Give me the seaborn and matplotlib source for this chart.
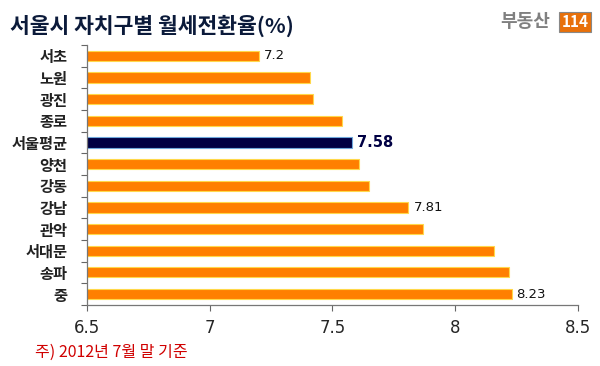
import matplotlib
matplotlib.use("Agg")
import matplotlib.pyplot as plt
import seaborn as sns
import pandas as pd
import numpy as np

categories = ["서초", "노원", "광진", "종로", "서울평균", "양천", "강동", "강남", "관악", "서대문", "송파", "중"]
values = [7.2, 7.41, 7.42, 7.54, 7.58, 7.61, 7.65, 7.81, 7.87, 8.16, 8.22, 8.23]
labeled = {"서초": "7.2", "서울평균": "7.58", "강남": "7.81", "중": "8.23"}
xticks = [6.5, 7, 7.5, 8, 8.5]
xticklabels = ["6.5", "7", "7.5", "8", "8.5"]

sns.set_theme(style="white")
plt.rcParams["font.family"] = ["Noto Sans CJK KR", "DejaVu Sans"]

df = pd.DataFrame({"cat": categories, "val": values})
df["grp"] = ["avg" if c == "서울평균" else "gu" for c in categories]

fig = plt.figure(figsize=(6, 3.66), dpi=100)
ax = fig.add_axes([0.145, 0.167, 0.818, 0.71])

orange = "#FF7F00"
navy = "#000044"
sns.barplot(data=df, y="cat", x="val", hue="grp", order=categories,
            palette={"gu": orange, "avg": navy}, dodge=False, legend=False,
            width=0.47, saturation=1, ax=ax)
for bar in ax.patches:
    fc = bar.get_facecolor()
    if fc[0] < 0.1:
        bar.set_edgecolor("#6FA8DC")
    else:
        bar.set_edgecolor("#FFD84A")
    bar.set_linewidth(0.8)

ax.set_xlim(6.5, 8.5)
ax.set_ylim(len(categories) - 0.5, -0.5)
ax.set_xticks(xticks)
ax.set_xticklabels(xticklabels, fontsize=12, family=["DejaVu Sans"])
ax.set_yticks(range(len(categories)))
ax.set_yticklabels(categories, fontsize=11, fontweight="bold", color="#222222")
ax.set_yticks(np.arange(-0.5, len(categories), 1), minor=True)
ax.tick_params(axis="y", which="major", length=0, pad=14)
ax.tick_params(axis="y", which="minor", length=4, width=0.8, color="#666666", direction="out", left=True)
ax.tick_params(axis="x", which="major", length=4, width=0.8, color="#666666", direction="out", bottom=True, pad=6)
ax.set_xlabel("")
ax.set_ylabel("")
for s in ["top", "right"]:
    ax.spines[s].set_visible(False)
for s in ["left", "bottom"]:
    ax.spines[s].set_color("#777777")
    ax.spines[s].set_linewidth(0.9)

for i, (c, v) in enumerate(zip(categories, values)):
    if c in labeled:
        if c == "서울평균":
            ax.text(v + 0.02, i, labeled[c], va="center", ha="left", fontsize=10.5,
                    fontweight="bold", color=navy, family=["DejaVu Sans"])
        else:
            ax.text(v + 0.02, i, labeled[c], va="center", ha="left", fontsize=9.5,
                    color="#111111", family=["DejaVu Sans"])

fig.text(0.017, 0.93, "서울시 자치구별 월세전환율(%)", fontsize=15.5, fontweight="bold",
         color="#0B1A3A", ha="left", va="center")
fig.text(0.058, 0.038, "주) 2012년 7월 말 기준", fontsize=11.5, color="#D00000",
         ha="left", va="center")
fig.text(0.875, 0.94, "부동산", fontsize=13, fontweight="bold", color="#808080",
         ha="center", va="center")
fig.text(0.958, 0.94, "114", fontsize=11, fontweight="bold", color="white",
         ha="center", va="center",
         bbox=dict(boxstyle="square,pad=0.15", fc="#E8700A", ec="#888888", lw=0.8))

fig.savefig("out.png", dpi=100, facecolor="white")
